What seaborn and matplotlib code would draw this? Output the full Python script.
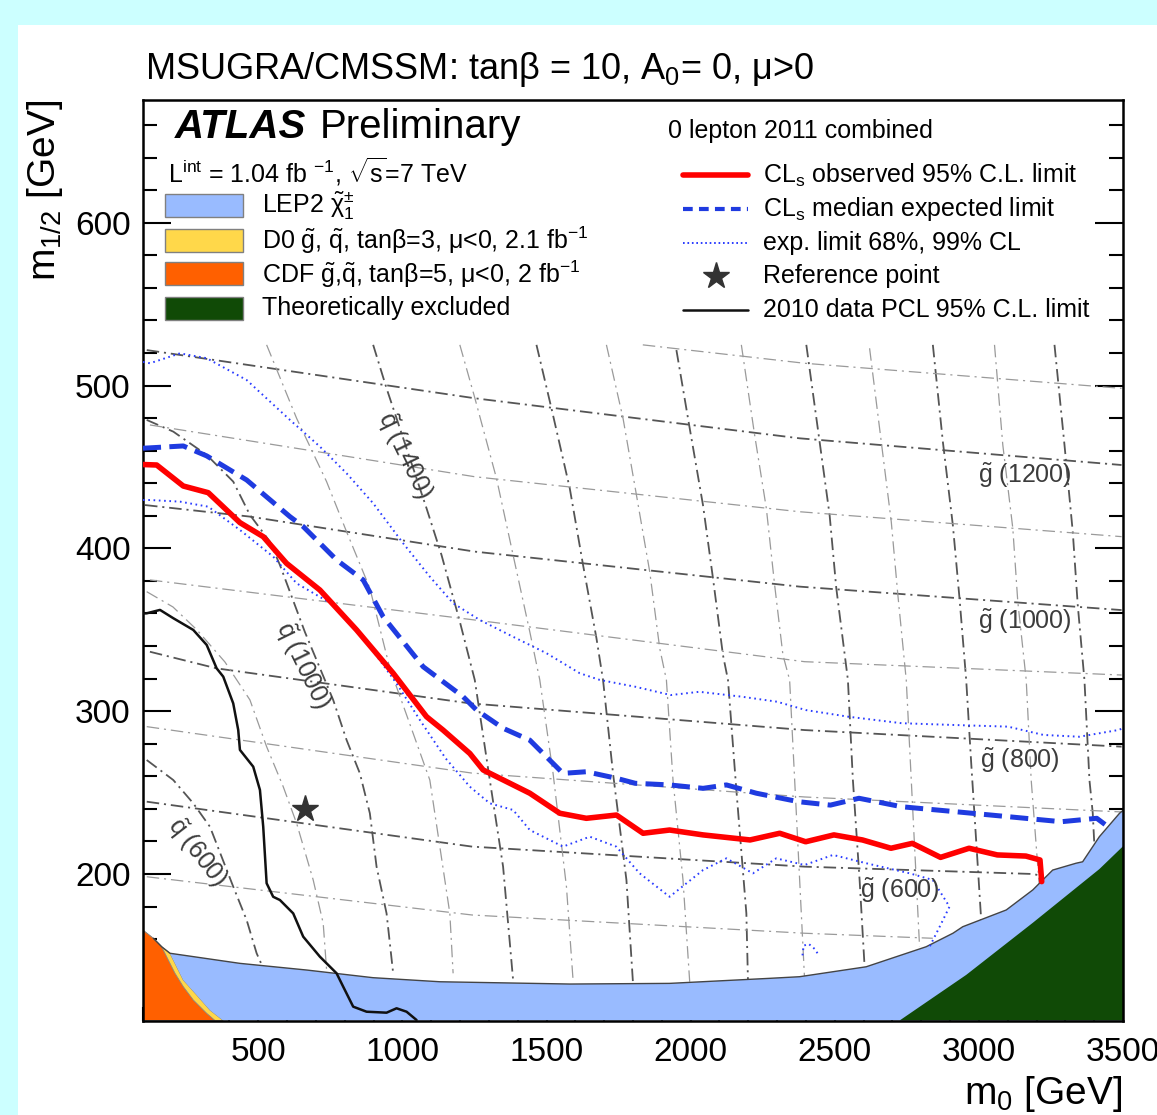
import matplotlib
matplotlib.use("Agg")
import matplotlib.pyplot as plt
from matplotlib.patches import Rectangle
from matplotlib.ticker import MultipleLocator
import numpy as np
import seaborn as sns

# ---- data (m0, m1/2 in GeV) ----
# observed CLs limit
obs_x = [100, 147.5, 239.7, 326.4, 436.3, 517, 598, 713.7, 841, 968, 1083.7, 1141, 1234, 1280,
         1442, 1546, 1638, 1742.5, 1835, 1927, 2043, 2206, 2309, 2399, 2497, 2596, 2695, 2769,
         2867, 2966, 3064, 3163, 3212, 3218]
obs_y = [451.5, 451.2, 438.3, 434.2, 415.8, 407.2, 390.8, 374.4, 349.9, 323.3, 296.6, 288.4, 274,
         263.9, 249.6, 237.3, 234.2, 236.2, 225, 227, 224, 220.9, 225, 219.8, 224, 220.9, 215.8,
         218.8, 210.2, 215.8, 211.7, 211, 208.6, 195.3]
# median expected
exp_x = [100, 239.7, 320.9, 459.6, 609.7, 655.8, 771.6, 863.9, 933.2, 1072, 1210.6, 1257, 1349.3,
         1442, 1557, 1638, 1742, 1808, 1927, 2043, 2124, 2228, 2374, 2485, 2584, 2732, 2916,
         3101, 3286, 3409, 3440, 3445]
exp_y = [461.5, 462.9, 456.8, 442, 419.5, 413.4, 392.9, 380.6, 358, 327.3, 308.9, 300.7, 289.5,
         282.2, 261.8, 262.8, 258.8, 255.7, 254.7, 252.6, 254.7, 249.6, 244.4, 242.3, 246.5,
         241.3, 238.3, 235.2, 232.1, 234.2, 230.1, 227]
# expected band edges
up_x = [100, 124.3, 228.3, 320.9, 459.6, 609.7, 713.7, 806.3, 898.5, 1002.6, 1095.2, 1175.9,
        1268.5, 1384, 1499.8, 1615.3, 1684.6, 1808, 1931, 2030, 2177, 2300, 2399, 2547, 2732,
        2916, 3101, 3224, 3348, 3483, 3500]
up_y = [514.5, 513.7, 519.8, 516.8, 503.4, 478.9, 462.5, 446.1, 427.7, 403.1, 382.6, 366.3,
        356, 345.7, 335.6, 323.3, 319.2, 315, 309.9, 311.9, 308.9, 305.8, 300.7, 296.6, 292.6,
        291.5, 290.5, 285.4, 284.3, 288.4, 289.5]
lo_x = [100, 124.3, 228.3, 326.4, 436.3, 551.8, 633, 771.6, 887, 979.6, 1060.5, 1150, 1234,
        1303, 1384, 1442, 1557, 1650, 1742, 1823, 1927, 2043, 2124, 2216, 2297, 2395, 2494,
        2609, 2760, 2840, 2898, 2864, 2829]
lo_y = [429.7, 429.7, 428.7, 425.6, 411.3, 394.9, 378.5, 364.2, 339.6, 317.1, 294.6, 271, 253.6,
        243.4, 239.3, 227, 216.8, 222.9, 216.8, 200.4, 186, 202.4, 209.6, 200.4, 209.6, 205.5,
        211.7, 206.6, 200.4, 196.3, 179.9, 167.6, 155.3]
island_x = [2388, 2392, 2410, 2430, 2445]
island_y = [150, 156, 157, 154, 150]
# 2010 PCL limit
pcl_x = [100, 112.8, 159, 205.1, 274.4, 320.9, 355.5, 378.4, 413, 430.4, 436.3, 482.4, 505.7,
         517.1, 528.9, 551.6, 575, 621.1, 655.8, 713.7, 771.6, 794.5, 829.2, 875.7, 945, 979.7,
         1014.4, 1049]
pcl_y = [360, 360.1, 362.2, 357.1, 349.9, 340.7, 326.3, 321.2, 304.8, 288.4, 276.2, 265.9, 251.6,
         229, 194.3, 186, 184, 175.8, 161.5, 149.2, 139, 130.8, 118.5, 115.4, 114.8, 117.5,
         115.4, 110.3]
ref_x = [662]
ref_y = [240]

# excluded regions
lep_x = [193.6, 436, 668, 898, 1130, 1581, 1927, 2274, 2378, 2609, 2817, 2910, 2944, 3095, 3187,
         3256, 3337, 3360, 3418, 3488, 3500]
lep_y = [151.3, 145.1, 141, 136.3, 133.8, 132.4, 132.8, 135.9, 136.9, 143, 155.3, 163.6, 167.6,
         177.9, 190.2, 202.4, 206.6, 207.5, 222.9, 237.3, 239]
d0_x = [193.6, 211, 239.7, 286.2, 332.3, 378.4]
d0_y = [151.3, 145.1, 134.9, 125.7, 116.4, 110]
cdf_x = [100, 107, 135.7, 164.8, 187.7, 211, 239.7, 274.4, 320.9, 349.7]
cdf_y = [165.5, 164.5, 160.5, 155.3, 147.2, 139, 130.8, 122.6, 114.4, 110]
th_x = [2725, 2956, 3187, 3418, 3500]
th_y = [110, 138, 170, 203, 217]

# iso-mass contours, gluino
gl1300_x, gl1300_y = [1834, 2395, 3495], [525, 513.7, 498.3]
gl1200_x, gl1200_y = [113, 1251, 2378, 3495], [521.8, 492.2, 467.6, 451.2]
gl1100_x, gl1100_y = [124, 1251, 2378, 3495], [475.8, 444.0, 422.5, 407.2]
gl1000_x, gl1000_y = [107, 471, 1251, 2378, 3495], [426.6, 419.5, 398.0, 376.5, 362.1]
gl900_x, gl900_y = [124, 1251, 2395, 3495], [380.6, 356.0, 330.4, 322.2]
gl800_x, gl800_y = [124, 355, 1234, 2395, 3495], [336.5, 326.3, 304.8, 288.4, 278.2]
gl700_x, gl700_y = [113, 1240, 2395, 3495], [290.5, 262, 247.3, 238.1]
gl600_x, gl600_y = [113, 1242, 2395, 3186, 3215], [244.4, 216.8, 204.5, 200, 199]
gl500_x, gl500_y = [113, 1242, 2395, 2840], [198.3, 174.8, 163.6, 160.5]
# iso-mass contours, squark
sq600_x = [112.8, 205.1, 274.4, 332.3, 413.1, 459.6, 494.2, 510]
sq600_y = [270.0, 257.7, 243.4, 229.0, 192.2, 171.7, 151.3, 145]
sq800_x = [112.8, 204, 287.2, 384.3, 471, 528.9, 586.5, 633, 690.5, 725.2, 737]
sq800_y = [373.4, 364.0, 349.9, 330.2, 306.9, 278.2, 253.6, 231.1, 196.3, 169.7, 141.0]
sq1000_x = [112.8, 205.1, 320.9, 413.1, 471, 540.4, 575, 661.7, 759.8, 806.3, 852.4, 887, 910.3, 945, 967.9]
sq1000_y = [478.9, 471.7, 457.4, 441.0, 420.5, 404.1, 389.8, 348.6, 306.9, 282.3, 261.8, 237.3, 204.5, 175.8, 139.0]
sq1200_x = [528.9, 632.9, 736.9, 806.3, 887.1, 956.4, 1008.4, 1095.1, 1129.8, 1164.5, 1175.9]
sq1200_y = [525, 479.9, 441.0, 410.2, 375.5, 326.3, 300.7, 257.7, 216.8, 175.8, 139]
sq1400_x = [898.5, 945, 1083.7, 1135.7, 1199.2, 1251, 1303.2, 1349.3, 1384]
sq1400_y = [525, 498.3, 424.6, 395.9, 355, 319.2, 257.7, 204.5, 134.9]
sq1600_x = [1199.2, 1251.2, 1326.4, 1384, 1441.9, 1476.6, 1522.7, 1569.1, 1592]
sq1600_y = [525, 492.4, 443, 395.9, 348.8, 319.2, 261.8, 192.2, 134.9]
sq1800_x = [1465.1, 1517.1, 1580.6, 1626.7, 1673.2, 1696, 1730.7, 1777.2, 1800]
sq1800_y = [525, 486, 436.9, 389.8, 344.8, 319.2, 261.8, 196.3, 132.9]
sq2000_x = [1707.8, 1765.4, 1811.9, 1858, 1892.7, 1915.9, 1938.8, 1973.5, 1996.7]
sq2000_y = [525, 479.9, 432.8, 385.7, 338.6, 319.2, 257.7, 196.3, 133.8]
sq2200_x = [1950.6, 1996.7, 2042.8, 2077.5, 2112.1, 2129.5, 2158.6, 2193.3, 2198.8]
sq2200_y = [521.8, 473.8, 426.6, 381.6, 334.5, 319.2, 251.6, 175.8, 134.9]
sq2400_x = [2175.9, 2222, 2262.6, 2291.4, 2320.2, 2343.4, 2366.6, 2395.4]
sq2400_y = [525, 469.6, 424.6, 377.5, 334.5, 319.2, 237.5, 134.9]
sq2600_x = [2401.3, 2447.4, 2482.1, 2505.3, 2545.6, 2562.9, 2586.2, 2603.5]
sq2600_y = [525, 465.5, 420.5, 375.5, 319.2, 257.7, 196.3, 143]
sq2800_x = [2620.8, 2661.3, 2696, 2718.9, 2748, 2765.4, 2782.7, 2794.2]
sq2800_y = [522.9, 465.5, 416.4, 371.4, 319.2, 257.7, 196.3, 155.3]
sq3000_x = [2840.3, 2875, 2909.6, 2932.8, 2956, 2973.4, 2996.3, 3008]
sq3000_y = [525, 465.5, 414.4, 369.3, 319.2, 268, 204.5, 171.7]
sq3200_x = [3054.2, 3083, 3117.7, 3135, 3164.2, 3181.5, 3204.4, 3210]
sq3200_y = [525, 463.5, 412.3, 367.2, 319.2, 257.7, 204.5, 192]
sq3400_x = [3262.3, 3297, 3325.7, 3343, 3366.2, 3383.6, 3395, 3400]
sq3400_y = [525, 463.5, 410.2, 365.2, 319.2, 257.7, 237.5, 220]

# ---- style ----
sns.set_theme(style="white")
plt.rcParams['font.family'] = ['Liberation Sans', 'DejaVu Sans']
plt.rcParams['mathtext.fontset'] = 'custom'
plt.rcParams['mathtext.rm'] = 'Liberation Sans'
plt.rcParams['mathtext.it'] = 'Liberation Sans:italic'
plt.rcParams['mathtext.bf'] = 'Liberation Sans:bold'
plt.rcParams['mathtext.default'] = 'regular'
plt.rcParams['lines.scale_dashes'] = False
plt.rcParams['text.color'] = 'black'
plt.rcParams['xtick.color'] = 'black'
plt.rcParams['ytick.color'] = 'black'
plt.rcParams['axes.labelcolor'] = 'black'

fig = plt.figure(figsize=(11.57, 11.15), dpi=100)
fig.patch.set_facecolor('#ccffff')
fig.add_artist(Rectangle((18 / 1157, 0), 1, 1 - 25 / 1115, transform=fig.transFigure,
                         facecolor='white', edgecolor='none', zorder=-10))
ax = fig.add_axes([143 / 1157, 1 - 1020.5 / 1115, 980 / 1157, 920.5 / 1115])
ax.set_facecolor('white')

# contour grid
dark = [(gl1200_x, gl1200_y), (gl1000_x, gl1000_y), (gl800_x, gl800_y), (gl600_x, gl600_y),
        (sq600_x, sq600_y), (sq1000_x, sq1000_y), (sq1400_x, sq1400_y), (sq1800_x, sq1800_y),
        (sq2200_x, sq2200_y), (sq2600_x, sq2600_y), (sq3000_x, sq3000_y), (sq3400_x, sq3400_y)]
light = [(gl1300_x, gl1300_y), (gl1100_x, gl1100_y), (gl900_x, gl900_y), (gl700_x, gl700_y),
         (gl500_x, gl500_y), (sq800_x, sq800_y), (sq1200_x, sq1200_y), (sq1600_x, sq1600_y),
         (sq2000_x, sq2000_y), (sq2400_x, sq2400_y), (sq2800_x, sq2800_y), (sq3200_x, sq3200_y)]
for xs, ys in dark:
    ax.plot(xs, ys, color='#555555', lw=1.3, ls=(0, (9, 3.5, 1.5, 3.5)), zorder=1)
for xs, ys in light:
    ax.plot(xs, ys, color='#9a9a9a', lw=0.9, ls=(0, (9, 3.5, 1.5, 3.5)), zorder=1)

# excluded regions
ax.fill(np.r_[100, cdf_x[:4], d0_x], np.r_[110, cdf_y[:4], d0_y], color='#ffd84a',
        ec='#888888', lw=0.6, zorder=2)
ax.fill(np.r_[100, cdf_x], np.r_[110, cdf_y], color='#ff6000', ec='#888888', lw=0.6, zorder=2)
ax.fill(np.r_[lep_x, 3500, d0_x[::-1]], np.r_[lep_y, 110, d0_y[::-1]], color='#99bbff',
        ec='none', zorder=2)
ax.fill(np.r_[th_x, 3500], np.r_[th_y, 110], color='#104a06', ec='none', zorder=2)
ax.plot(np.r_[135.7, 164.8, lep_x], np.r_[160.5, 155.3, lep_y], color='#444444', lw=1.0, zorder=2.5)

# limits
sns.lineplot(x=pcl_x, y=pcl_y, sort=False, estimator=None, color='#111111', lw=1.8, ax=ax, zorder=3)
sns.lineplot(x=up_x, y=up_y, sort=False, estimator=None, color='#2a3cff', lw=1.4,
             ls=(0, (1.2, 2.6)), ax=ax, zorder=3)
sns.lineplot(x=lo_x, y=lo_y, sort=False, estimator=None, color='#2a3cff', lw=1.4,
             ls=(0, (1.2, 2.6)), ax=ax, zorder=3)
sns.lineplot(x=island_x, y=island_y, sort=False, estimator=None, color='#2a3cff', lw=1.4,
             ls=(0, (1.2, 2.6)), ax=ax, zorder=3)
sns.lineplot(x=exp_x, y=exp_y, sort=False, estimator=None, color='#1f3be0', lw=3.6,
             ls=(0, (13, 6)), dash_capstyle='butt', ax=ax, zorder=4)
sns.lineplot(x=obs_x, y=obs_y, sort=False, estimator=None, color='#ff0000', lw=4.0, ax=ax, zorder=5)
ax.plot(ref_x, ref_y, marker='*', ms=20, color='#333333', ls='none', zorder=6)

# contour labels
lab = dict(color='#3c3c3c', fontsize=18, ha='center', va='center', zorder=3)
ax.text(3158, 445, r'$\tilde{g}$ (1200)', **lab)
ax.text(3158, 355, r'$\tilde{g}$ (1000)', **lab)
ax.text(3141, 270, r'$\tilde{g}$ (800)', **lab)
ax.text(2725, 190, r'$\tilde{g}$ (600)', **lab)
ax.text(1008, 457, r'$\tilde{q}$ (1400)', rotation=-64, rotation_mode='anchor', **lab)
ax.text(655, 328, r'$\tilde{q}$ (1000)', rotation=-64, rotation_mode='anchor', **lab)
ax.text(287, 213, r'$\tilde{q}$ (600)', rotation=-52, rotation_mode='anchor', **lab)

ax.set_xlim(100, 3500)
ax.set_ylim(110, 675.4)
ax.set_xlabel('')
ax.set_ylabel('')
ax.xaxis.set_major_locator(MultipleLocator(500))
ax.xaxis.set_minor_locator(MultipleLocator(100))
ax.yaxis.set_major_locator(MultipleLocator(100))
ax.yaxis.set_minor_locator(MultipleLocator(20))
ax.tick_params(which='both', direction='in', left=True, right=True, bottom=True, top=False,
               width=1.5, color='black', labelcolor='black')
ax.tick_params(which='major', length=20, labelsize=24)
ax.tick_params(which='minor', length=10)
ax.tick_params(axis='x', which='major', pad=12)
ax.tick_params(axis='y', which='major', pad=9)
for s in ax.spines.values():
    s.set_linewidth(1.8)
    s.set_color('black')

# legend, left block
T = ax.transAxes
ax.text(0.0327, 0.9707, 'ATLAS', fontsize=29, fontweight='bold', fontstyle='italic',
        va='center', ha='left', transform=T)
ax.text(0.1806, 0.9707, 'Preliminary', fontsize=29, va='center', ha='left', transform=T)
ax.text(0.0255, 0.9218, r'L$^{int}$ = 1.04 fb $^{-1}$, $\sqrt{s}$=7 TeV', fontsize=18,
        va='center', ha='left', transform=T)
boxes = [('#99bbff', r'LEP2 $\tilde{\chi}_{1}^{\pm}$'),
         ('#ffd84a', r'D0 $\tilde{g}$, $\tilde{q}$, tanβ=3, μ<0, 2.1 fb$^{-1}$'),
         ('#ff6000', r'CDF $\tilde{g}$,$\tilde{q}$, tanβ=5, μ<0, 2 fb$^{-1}$'),
         ('#104a06', 'Theoretically excluded')]
for (c, t), yc in zip(boxes, [0.8859, 0.8479, 0.8110, 0.7740]):
    ax.add_patch(Rectangle((0.0225, yc - 0.0125), 0.0796, 0.025, transform=T, facecolor=c,
                           edgecolor='#808080', lw=1.0, zorder=6))
    ax.text(0.1214, yc, t, fontsize=18, va='center', ha='left', transform=T)

# legend, right block
ax.text(0.5357, 0.9663, '0 lepton 2011 combined', fontsize=18, va='center', ha='left', transform=T)
rows = [0.9186, 0.8816, 0.8447, 0.8088, 0.7719]
ax.plot([0.551, 0.6173], [rows[0]] * 2, transform=T, color='#ff0000', lw=4.0)
ax.plot([0.551, 0.6173], [rows[1]] * 2, transform=T, color='#1f3be0', lw=3.0,
        ls=(0, (7, 4.5)), dash_capstyle='butt')
ax.plot([0.551, 0.6173], [rows[2]] * 2, transform=T, color='#2a3cff', lw=1.4, ls=(0, (1.2, 2.0)))
ax.plot([0.5847], [rows[3]], transform=T, marker='*', ms=20, color='#333333', ls='none')
ax.plot([0.551, 0.6173], [rows[4]] * 2, transform=T, color='#111111', lw=1.8)
labels = [r'CL$_s$ observed 95% C.L. limit', r'CL$_s$ median expected limit',
          'exp. limit 68%, 99% CL', 'Reference point', '2010 data PCL 95% C.L. limit']
for t, yc in zip(labels, rows):
    ax.text(0.6327, yc, t, fontsize=18, va='center', ha='left', transform=T)

# titles
fig.text(145 / 1157, 1 - 79 / 1115, r'MSUGRA/CMSSM: tanβ = 10, A$_0$= 0, μ>0', fontsize=26,
         ha='left', va='baseline')
fig.text(45 / 1157, 1 - 100 / 1115, r'm$_{1/2}$ [GeV]', fontsize=28, rotation=90,
         ha='center', va='top')
fig.text(1122 / 1157, 1 - 1104 / 1115, r'm$_0$ [GeV]', fontsize=28, ha='right', va='baseline')

fig.savefig('out.png', dpi=100, facecolor=fig.get_facecolor())
